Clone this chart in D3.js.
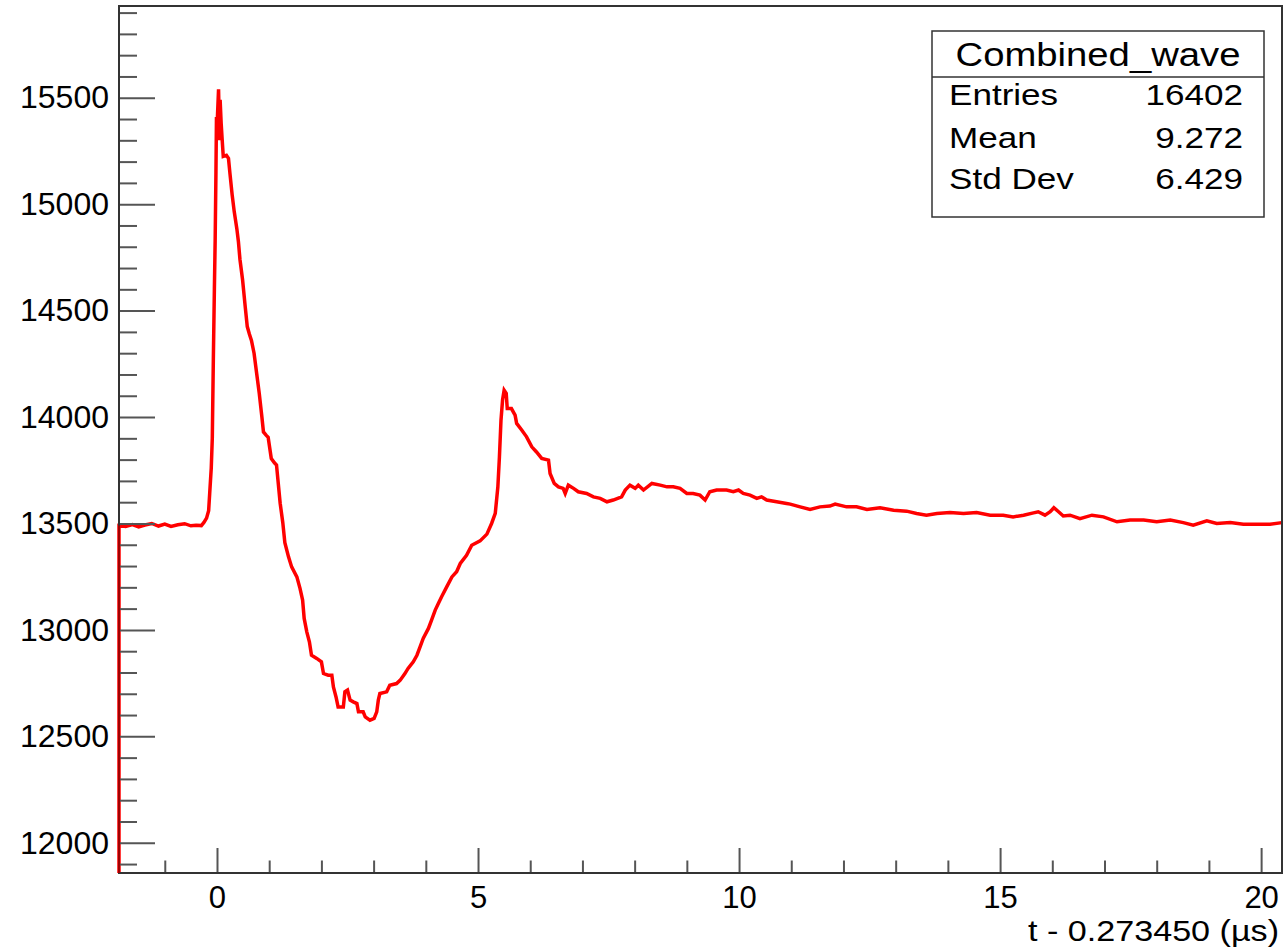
<!DOCTYPE html>
<html>
<head>
<meta charset="utf-8">
<script src="https://cdn.jsdelivr.net/npm/d3@7"></script>
<style>
  html, body { margin: 0; padding: 0; background: #fff; }
  svg { display: block; }
  text { font-family: "Liberation Sans", Arial, Helvetica, sans-serif; fill: #000; }
</style>
</head>
<body>
<svg id="chart" width="1288" height="951"></svg>
<script>
// ---- data ----
const times = [
  -1.88, -1.75, -1.62, -1.50, -1.38, -1.25, -1.12, -1.00, -0.88, -0.75, -0.62, -0.50, -0.40, -0.30,
  -0.25, -0.20, -0.16, -0.14, -0.11, -0.09, -0.07, -0.05, -0.035, -0.02, -0.01, 0.00, 0.01, 0.03,
  0.05, 0.06, 0.08, 0.10, 0.12, 0.18, 0.22, 0.25, 0.29, 0.33, 0.38, 0.41, 0.44, 0.49, 0.54, 0.58,
  0.62, 0.66, 0.71, 0.76, 0.81, 0.86, 0.89, 0.94, 0.98, 1.04, 1.10, 1.14, 1.21, 1.26, 1.30, 1.37,
  1.43, 1.53, 1.59, 1.64, 1.67, 1.72, 1.77, 1.81, 1.91, 2.00, 2.04, 2.13, 2.20, 2.23, 2.28, 2.32,
  2.42, 2.45, 2.50, 2.55, 2.61, 2.68, 2.71, 2.80, 2.84, 2.93, 3.01, 3.06, 3.09, 3.12, 3.25, 3.31,
  3.44, 3.51, 3.60, 3.66, 3.76, 3.83, 3.89, 3.95, 4.05, 4.11, 4.18, 4.24, 4.30, 4.40, 4.50, 4.59,
  4.66, 4.78, 4.88, 5.04, 5.17, 5.26, 5.33, 5.38, 5.41, 5.44, 5.47, 5.50, 5.54, 5.56, 5.64, 5.71,
  5.74, 5.84, 5.93, 6.03, 6.12, 6.22, 6.35, 6.38, 6.46, 6.54, 6.63, 6.67, 6.73, 6.83, 6.92, 7.08,
  7.21, 7.34, 7.47, 7.59, 7.75, 7.82, 7.91, 8.01, 8.07, 8.17, 8.33, 8.49, 8.62, 8.74, 8.87, 9.00,
  9.12, 9.25, 9.35, 9.44, 9.57, 9.76, 9.89, 9.99, 10.08, 10.21, 10.34, 10.43, 10.53, 10.72, 10.91, 10.98,
  11.17, 11.36, 11.55, 11.74, 11.84, 12.06, 12.25, 12.45, 12.70, 12.96, 13.21, 13.40, 13.59, 13.79, 14.04, 14.30,
  14.55, 14.81, 15.06, 15.25, 15.45, 15.64, 15.73, 15.86, 15.96, 16.03, 16.12, 16.21, 16.34, 16.53, 16.76, 16.98,
  17.24, 17.49, 17.75, 18.00, 18.26, 18.51, 18.70, 18.96, 19.15, 19.41, 19.66, 19.92, 20.17, 20.40
];
const counts = [
  13490, 13486, 13495, 13484, 13493, 13500, 13488, 13497, 13486, 13494, 13499, 13489, 13492, 13490,
  13505, 13525, 13560, 13640, 13760, 13900, 14270, 14600, 14830, 15150, 15410, 15330, 15420, 15540,
  15300, 15490, 15380, 15300, 15225, 15230, 15215, 15140, 15045, 14965, 14885, 14825, 14740, 14645, 14520, 14425,
  14390, 14360, 14300, 14205, 14110, 14000, 13930, 13915, 13905, 13805, 13785, 13775, 13595, 13505, 13410, 13343,
  13296, 13249, 13195, 13140, 13054, 12991, 12944, 12881, 12866, 12850, 12795, 12787, 12787, 12732, 12685, 12638,
  12638, 12709, 12717, 12670, 12662, 12654, 12615, 12615, 12591, 12576, 12584, 12615, 12670, 12701, 12709, 12740,
  12748, 12764, 12795, 12819, 12850, 12881, 12920, 12960, 13007, 13046, 13093, 13124, 13155, 13202, 13249, 13273,
  13312, 13350, 13398, 13418, 13450, 13500, 13547, 13672, 13813, 13986, 14080, 14126, 14111, 14040, 14040, 14009,
  13970, 13938, 13907, 13860, 13836, 13806, 13798, 13735, 13688, 13672, 13665, 13641, 13680, 13665, 13649, 13641,
  13625, 13618, 13602, 13610, 13625, 13657, 13680, 13665, 13680, 13657, 13688, 13680, 13672, 13672, 13665, 13641,
  13641, 13633, 13610, 13649, 13657, 13657, 13649, 13657, 13641, 13633, 13618, 13625, 13610, 13602, 13594, 13591,
  13578, 13566, 13578, 13582, 13591, 13578, 13578, 13566, 13574, 13562, 13558, 13547, 13539, 13547, 13551, 13547,
  13551, 13539, 13539, 13531, 13539, 13550, 13555, 13539, 13555, 13574, 13555, 13535, 13539, 13523, 13539, 13531,
  13508, 13516, 13516, 13508, 13516, 13504, 13492, 13512, 13500, 13504, 13496, 13496, 13496, 13504
];
const xMajorTicks = [0, 5, 10, 15, 20];
const xMinorTicks = [-1, 1, 2, 3, 4, 6, 7, 8, 9, 11, 12, 13, 14, 16, 17, 18, 19];
const yMajorTicks = [12000, 12500, 13000, 13500, 14000, 14500, 15000, 15500];
const yMinorTicks = [11900, 12100, 12200, 12300, 12400, 12600, 12700, 12800, 12900, 13100, 13200, 13300, 13400,
  13600, 13700, 13800, 13900, 14100, 14200, 14300, 14400, 14600, 14700, 14800, 14900, 15100, 15200, 15300, 15400,
  15600, 15700, 15800, 15900];
const xDomain = [-1.877, 20.40];
const yDomain = [11858, 15931];
const xTitle = "t - 0.273450 (\u00b5s)";
const statsTitle = "Combined_wave";
const statsLabels = ["Entries", "Mean", "Std Dev"];
const statsValues = ["16402", "9.272", "6.429"];

// ---- layout ----
const frame = { left: 119, right: 1282, top: 6, bottom: 873 };
const svg = d3.select("#chart");
const x = d3.scaleLinear().domain(xDomain).range([frame.left, frame.right]);
const y = d3.scaleLinear().domain(yDomain).range([frame.bottom, frame.top]);

// ---- histogram outline ----
const pts = times.map((t, i) => [t, counts[i]]);
pts.unshift([times[0], yDomain[0]]);
const line = d3.line().x(d => x(Math.max(d[0], xDomain[0]))).y(d => y(d[1])).curve(d3.curveLinear);
svg.append("path")
  .datum(pts)
  .attr("d", line)
  .attr("fill", "none")
  .attr("stroke", "#ff0000")
  .attr("stroke-width", 3.5)
  .attr("stroke-linejoin", "miter");

// ---- axes ----
const tickColor = "#555";
const axisFont = 32;

const gxMinor = svg.append("g").attr("transform", `translate(0,${frame.bottom})`)
  .call(d3.axisBottom(x).tickValues(xMinorTicks).tickSize(-12.5).tickFormat(""));
const gx = svg.append("g").attr("transform", `translate(0,${frame.bottom})`)
  .call(d3.axisBottom(x).tickValues(xMajorTicks).tickSize(-25).tickPadding(13).tickFormat(d3.format("d")));
[gxMinor, gx].forEach(g => {
  g.select(".domain").remove();
  g.selectAll(".tick line").attr("stroke", tickColor).attr("stroke-width", 2);
});
gx.selectAll(".tick text").attr("font-size", 31).attr("font-family", "Liberation Sans, Arial, sans-serif").attr("fill", "#000");

const gyMinor = svg.append("g").attr("transform", `translate(${frame.left},0)`)
  .call(d3.axisLeft(y).tickValues(yMinorTicks).tickSize(-18).tickFormat(""));
const gy = svg.append("g").attr("transform", `translate(${frame.left},0)`)
  .call(d3.axisLeft(y).tickValues(yMajorTicks).tickSize(-36).tickPadding(10).tickFormat(d3.format("d")));
[gyMinor, gy].forEach(g => {
  g.select(".domain").remove();
  g.selectAll(".tick line").attr("stroke", tickColor).attr("stroke-width", 2);
});
gy.selectAll(".tick text").attr("font-size", axisFont).attr("font-family", "Liberation Sans, Arial, sans-serif").attr("fill", "#000");

// frame
svg.append("rect")
  .attr("x", frame.left).attr("y", frame.top)
  .attr("width", frame.right - frame.left).attr("height", frame.bottom - frame.top)
  .attr("fill", "none").attr("stroke", "#333").attr("stroke-width", 2);
svg.append("line")
  .attr("x1", frame.left).attr("x2", frame.left)
  .attr("y1", y(counts[0])).attr("y2", frame.bottom)
  .attr("stroke", "#a00000").attr("stroke-width", 2);

// x title
svg.append("text")
  .attr("x", 1028).attr("y", 941)
  .attr("font-size", 29)
  .attr("textLength", 251)
  .attr("lengthAdjust", "spacingAndGlyphs")
  .text(xTitle);

// ---- stats box ----
const box = { left: 932, right: 1264, top: 31, bottom: 217, sep: 77 };
const sb = svg.append("g");
sb.append("rect")
  .attr("x", box.left).attr("y", box.top)
  .attr("width", box.right - box.left).attr("height", box.bottom - box.top)
  .attr("fill", "#fff").attr("stroke", "#333").attr("stroke-width", 1.5);
sb.append("line")
  .attr("x1", box.left).attr("x2", box.right)
  .attr("y1", box.sep).attr("y2", box.sep)
  .attr("stroke", "#333").attr("stroke-width", 1.5);
sb.append("text")
  .attr("transform", `translate(${(box.left + box.right) / 2},66) scale(1.16,1)`)
  .attr("text-anchor", "middle").attr("font-size", 33)
  .text(statsTitle);
const rowBase = [105, 148, 189];
statsLabels.forEach((lab, i) => {
  sb.append("text").attr("transform", `translate(${box.left + 17},${rowBase[i]}) scale(1.17,1)`)
    .attr("font-size", 30).text(lab);
  sb.append("text").attr("transform", `translate(${box.right - 21},${rowBase[i]}) scale(1.17,1)`)
    .attr("text-anchor", "end").attr("font-size", 30).text(statsValues[i]);
});
</script>
</body>
</html>
